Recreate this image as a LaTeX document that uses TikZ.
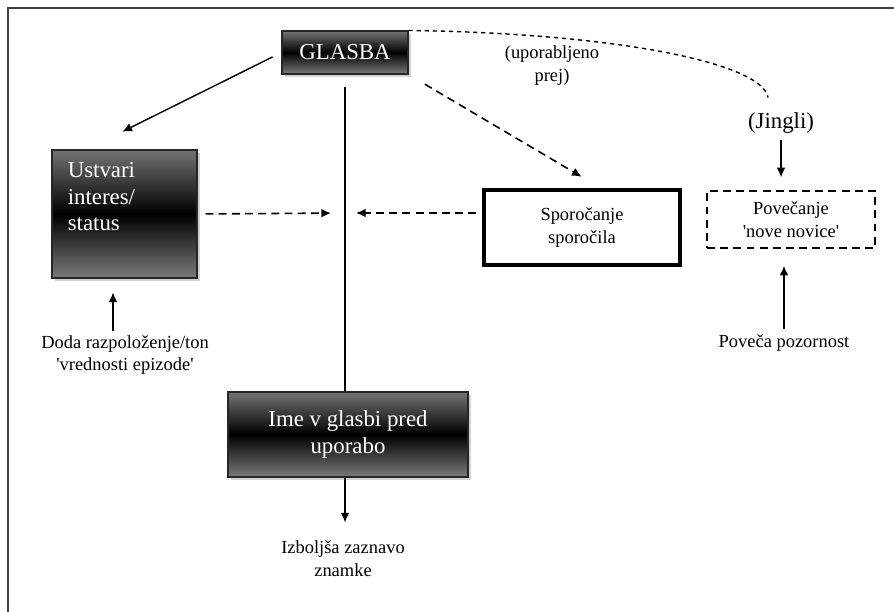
\documentclass[tikz,border=0pt]{standalone}
\usepackage{fontspec}
\setmainfont{Liberation Serif}
\usetikzlibrary{calc, shadows, positioning, arrows.meta}

\begin{document}
\begin{tikzpicture}[>={Latex[length=5.5pt, width=5pt]}, x=0.02cm, y=-0.02cm]

	% --- Pisave ---
	\def\smallsize{\fontsize{10.5}{13}\selectfont}
	\def\bigsize{\fontsize{13}{15}\selectfont}
	\def\q{\textquotesingle}

	% --- Stili ---
	\tikzset{
		darkbox/.style={draw=black!85, semithick, top color=black!55, bottom color=black!52, middle color=black, text=white!92, font=\bigsize, align=center, drop shadow={shadow xshift=1.6pt, shadow yshift=-1.6pt, fill=black!35}},
		boxtext/.style={text=white!92, font=\bigsize, align=left, inner sep=0pt},
		plainbox/.style={draw=black, line width=2pt, fill=white, font=\smallsize, align=center},
		dashbox/.style={draw=black, line width=0.9pt, dash pattern=on 4.5pt off 3pt, font=\smallsize, align=center},
		note/.style={font=\smallsize, align=center, inner sep=1pt},
		arrow/.style={->, line width=0.8pt},
		dasharrow/.style={->, line width=0.9pt, dash pattern=on 4.5pt off 3pt}
	}

	\useasboundingbox (0,0) rectangle (894,612);

	% --- Okvir ---
	\draw[line width=1.3pt, black!75] (8,612) -- (8,8) -- (894,8);

	% --- Okvirji ---
	\node[darkbox, minimum width=2.52cm, minimum height=0.86cm] (glasba) at (345,52.5) {GLASBA};
	\node[darkbox, minimum width=2.9cm, minimum height=2.56cm] (ustvari) at (124.5,214) {};
	\node[boxtext, below right=0.26cm and 0.32cm of ustvari.north west] (ustvari-text) {Ustvari\\interes/\\status};
	\node[darkbox, minimum width=4.8cm, minimum height=1.7cm] (ime) at (348,434.5) {Ime v glasbi pred\\uporabo};
	\node[plainbox, minimum width=3.92cm, minimum height=1.5cm] (sporocanje) at (582,227.5) {Sporočanje\\sporočila};
	\node[dashbox, minimum width=3.36cm, minimum height=1.14cm] (povecanje) at (791,219.5) {Povečanje\\\q nove novice\q};

	% --- Besedila ---
	\node[note, font=\bigsize] (jingli) at (781,123) {(Jingli)};
	\node[note] (uporabljeno) at (552,65.5) {(uporabljeno\\prej)};
	\node[note] (doda) at (125,355) {Doda razpoloženje/ton\\\q vrednosti epizode\q};
	\node[note] (pozornost) at (784,343) {Poveča pozornost};
	\node[note] (izboljsa) at (343,558.5) {Izboljša zaznavo\\znamke};

	% --- Povezave ---
	\coordinate (hub) at (345,213);
	\draw[arrow, shorten <=0.2cm, shorten >=0.8cm] (glasba.west) -- ([xshift=-0.76cm]ustvari.north);
	\draw[line width=0.8pt, shorten <=0.24cm] (glasba.south) -- (glasba.south |- ime.north);
	\draw[dasharrow, shorten <=0.38cm, shorten >=0.45cm] (glasba.south east) -- ([xshift=0.38cm]sporocanje.north);
	\draw[dasharrow, shorten <=0.16cm, shorten >=0.28cm] (ustvari.east) -- (hub);
	\draw[dasharrow, shorten <=0.12cm, shorten >=0.22cm] (hub -| sporocanje.west) -- (hub);
	\draw[line width=0.8pt, dash pattern=on 2.4pt off 2.2pt] (glasba.north east) .. controls (610,33) and (762,62) .. ([xshift=-0.26cm, yshift=0.26cm]jingli.north);
	\draw[arrow, shorten <=0.1cm, shorten >=0.26cm] (jingli.south) -- (jingli.south |- povecanje.north);
	\draw[arrow, shorten <=0.08cm, shorten >=0.34cm] (pozornost.north) -- (pozornost.north |- povecanje.south);
	\draw[arrow, shorten <=0.04cm, shorten >=0.28cm] ([xshift=-0.24cm]doda.north) -- ([xshift=-0.24cm]doda.north |- ustvari.south);
	\draw[arrow, shorten >=0.32cm] (glasba.south |- ime.south) -- (glasba.south |- izboljsa.north);

\end{tikzpicture}
\end{document}
